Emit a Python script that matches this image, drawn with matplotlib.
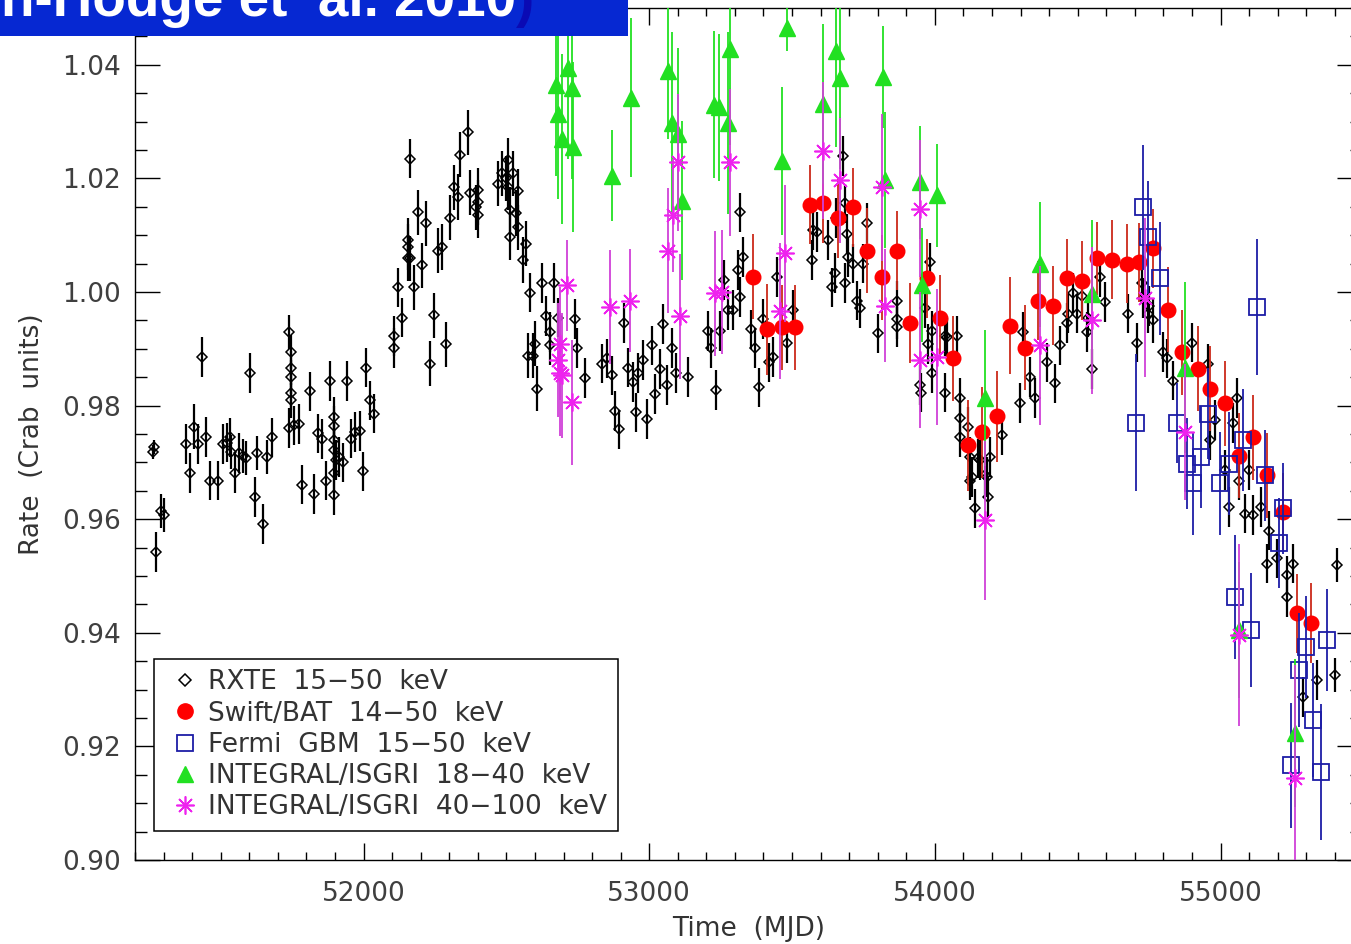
import matplotlib
matplotlib.use("Agg")
import matplotlib.pyplot as plt
from matplotlib.lines import Line2D
from matplotlib.patches import Rectangle
from matplotlib.ticker import MultipleLocator, FormatStrFormatter

# ── Crab light curves (rate in Crab units vs MJD) ───────────────────
rxte_mjd = [
    51262, 51265, 51273, 51290, 51300, 51378, 51392, 51406, 51420, 51434,
    51448, 51462, 51490, 51507, 51521, 51532, 51535, 51549, 51563, 51577,
    51587, 51601, 51619, 51626, 51647, 51661, 51678, 51738, 51745, 51745,
    51745, 51745, 51745, 51738, 51755, 51773, 51783, 51811, 51825, 51839,
    51853, 51867, 51881, 51895, 51895, 51895, 51895, 51902, 51895, 51895,
    51913, 51927, 51941, 51955, 51969, 51986, 51997, 52010, 52024, 52038,
    52105, 52105, 52122, 52136, 52154, 52154, 52164, 52157, 52161, 52175,
    52189, 52206, 52217, 52231, 52245, 52259, 52273, 52287, 52301, 52315,
    52332, 52339, 52364, 52374, 52392, 52402, 52402, 52399, 52469, 52486,
    52497, 52504, 52507, 52511, 52514, 52524, 52532, 52542, 52542, 52559,
    52570, 52584, 52577, 52594, 52601, 52608, 52626, 52640, 52654, 52654,
    52668, 52682, 52741, 52748, 52776, 52836, 52853, 52871, 52881, 52895,
    52913, 52927, 52944, 52955, 52962, 52979, 52993, 53010, 53021, 53038,
    53049, 53063, 53080, 53094, 53136, 53206, 53217, 53234, 53248, 53262,
    53276, 53294, 53318, 53311, 53329, 53318, 53357, 53371, 53385, 53399,
    53420, 53434, 53448, 53483, 53504, 53570, 53573, 53587, 53626, 53640,
    53650, 53678, 53685, 53692, 53696, 53713, 53727, 53738, 53748, 53762,
    53801, 53867, 53867, 53867, 53948, 53951, 53976, 53983, 53965, 53990,
    53990, 54035, 54035, 54042, 54077, 54087, 54087, 54115, 54087, 54122,
    54122, 54129, 54140, 54150, 54157, 54175, 54182, 54185, 54192, 54234,
    54297, 54308, 54332, 54350, 54392, 54420, 54437, 54462, 54465, 54483,
    54497, 54514, 54532, 54535, 54549, 54577, 54594, 54675, 54706, 54724,
    54745, 54797, 54811, 54832, 54899, 54955, 55042, 55059, 55031, 55084,
    55112, 55143, 55161, 55171, 55199, 55231, 55234, 55252, 55287, 55336,
    55399, 55409, 54962, 54979, 55014, 55066, 55101, 53654, 53685, 54727,
    54748, 54762,
]
rxte_rate = [
    0.9718, 0.9727, 0.9542, 0.9614, 0.9607, 0.9733, 0.9682, 0.9763, 0.9732, 0.9885,
    0.9745, 0.9668, 0.9668, 0.9733, 0.9735, 0.9744, 0.9718, 0.9682, 0.9716, 0.9712,
    0.9707, 0.9858, 0.9639, 0.9716, 0.9591, 0.9709, 0.9744, 0.9929, 0.9894, 0.9867,
    0.9850, 0.9823, 0.9809, 0.9760, 0.9765, 0.9767, 0.9661, 0.9825, 0.9644, 0.9751,
    0.9741, 0.9668, 0.9843, 0.9780, 0.9764, 0.9739, 0.9721, 0.9704, 0.9681, 0.9642,
    0.9709, 0.9700, 0.9843, 0.9742, 0.9753, 0.9755, 0.9684, 0.9867, 0.9809, 0.9786,
    0.9922, 0.9901, 1.0008, 0.9955, 1.0091, 1.0059, 1.0059, 1.0079, 1.0235, 1.0008,
    1.0140, 1.0047, 1.0121, 0.9874, 0.9959, 1.0073, 1.0079, 0.9908, 1.0131, 1.0184,
    1.0167, 1.0242, 1.0281, 1.0175, 1.0149, 1.0179, 1.0158, 1.0135, 1.0191, 1.0209,
    1.0200, 1.0232, 1.0184, 1.0144, 1.0096, 1.0209, 1.0139, 1.0177, 1.0114, 1.0056,
    1.0085, 0.9999, 0.9888, 0.9888, 0.9909, 0.9830, 1.0016, 0.9958, 0.9929, 0.9906,
    1.0016, 0.9955, 0.9953, 0.9902, 0.9849, 0.9874, 0.9883, 0.9853, 0.9791, 0.9758,
    0.9945, 0.9867, 0.9841, 0.9788, 0.9857, 0.9880, 0.9776, 0.9906, 0.9821, 0.9865,
    0.9943, 0.9836, 0.9902, 0.9857, 0.9851, 0.9932, 0.9902, 0.9828, 0.9932, 1.0021,
    0.9968, 0.9968, 0.9991, 1.0039, 1.0061, 1.0140, 0.9934, 0.9902, 0.9832, 0.9953,
    0.9876, 0.9885, 1.0026, 0.9910, 0.9968, 1.0056, 1.0109, 1.0105, 1.0091, 1.0008,
    1.0033, 1.0240, 1.0016, 1.0102, 1.0061, 1.0050, 0.9985, 0.9971, 1.0050, 1.0122,
    0.9927, 0.9985, 0.9953, 0.9938, 0.9836, 0.9823, 0.9909, 1.0052, 0.9971, 0.9932,
    0.9857, 0.9923, 0.9823, 0.9920, 0.9923, 0.9814, 0.9779, 0.9762, 0.9744, 0.9709,
    0.9668, 0.9674, 0.9619, 0.9707, 0.9704, 0.9677, 0.9674, 0.9639, 0.9709, 0.9748,
    0.9804, 0.9929, 0.9850, 0.9814, 0.9876, 0.9839, 0.9906, 0.9945, 0.9962, 0.9998,
    0.9962, 0.9993, 0.9929, 0.9955, 0.9865, 1.0026, 0.9982, 0.9962, 0.9911, 1.0016,
    0.9962, 0.9894, 0.9883, 0.9844, 0.9911, 0.9874, 0.9769, 0.9813, 0.9621, 0.9610,
    0.9607, 0.9621, 0.9522, 0.9580, 0.9531, 0.9463, 0.9501, 0.9522, 0.9287, 0.9317,
    0.9325, 0.9519, 0.9739, 0.9774, 0.9686, 0.9668, 0.9686, 1.0130, 1.0156, 0.9990,
    0.9975, 0.9950,
]
rxte_err = [
    0.0012, 0.0012, 0.0035, 0.0030, 0.0030, 0.0035, 0.0035, 0.0040, 0.0035, 0.0035,
    0.0035, 0.0035, 0.0035, 0.0035, 0.0035, 0.0035, 0.0030, 0.0035, 0.0035, 0.0030,
    0.0030, 0.0035, 0.0035, 0.0030, 0.0035, 0.0030, 0.0035, 0.0030, 0.0030, 0.0030,
    0.0030, 0.0030, 0.0030, 0.0035, 0.0035, 0.0035, 0.0035, 0.0035, 0.0035, 0.0035,
    0.0035, 0.0035, 0.0035, 0.0035, 0.0035, 0.0035, 0.0035, 0.0035, 0.0035, 0.0035,
    0.0035, 0.0035, 0.0035, 0.0035, 0.0035, 0.0035, 0.0035, 0.0035, 0.0035, 0.0035,
    0.0035, 0.0035, 0.0035, 0.0035, 0.0040, 0.0040, 0.0040, 0.0040, 0.0035, 0.0040,
    0.0040, 0.0040, 0.0040, 0.0040, 0.0040, 0.0040, 0.0040, 0.0040, 0.0040, 0.0040,
    0.0040, 0.0040, 0.0040, 0.0040, 0.0040, 0.0040, 0.0040, 0.0040, 0.0040, 0.0040,
    0.0040, 0.0040, 0.0040, 0.0040, 0.0040, 0.0040, 0.0040, 0.0040, 0.0040, 0.0040,
    0.0040, 0.0035, 0.0040, 0.0040, 0.0040, 0.0040, 0.0035, 0.0035, 0.0035, 0.0035,
    0.0035, 0.0035, 0.0035, 0.0035, 0.0035, 0.0035, 0.0035, 0.0035, 0.0035, 0.0035,
    0.0035, 0.0035, 0.0035, 0.0035, 0.0035, 0.0035, 0.0035, 0.0035, 0.0035, 0.0035,
    0.0035, 0.0035, 0.0035, 0.0035, 0.0035, 0.0035, 0.0035, 0.0035, 0.0035, 0.0035,
    0.0035, 0.0035, 0.0035, 0.0035, 0.0035, 0.0035, 0.0035, 0.0035, 0.0035, 0.0035,
    0.0035, 0.0035, 0.0035, 0.0035, 0.0035, 0.0035, 0.0035, 0.0035, 0.0035, 0.0035,
    0.0035, 0.0035, 0.0035, 0.0035, 0.0035, 0.0035, 0.0035, 0.0035, 0.0035, 0.0035,
    0.0035, 0.0035, 0.0035, 0.0035, 0.0035, 0.0035, 0.0035, 0.0035, 0.0035, 0.0035,
    0.0035, 0.0035, 0.0035, 0.0035, 0.0035, 0.0035, 0.0035, 0.0035, 0.0035, 0.0035,
    0.0035, 0.0035, 0.0035, 0.0035, 0.0035, 0.0035, 0.0035, 0.0035, 0.0035, 0.0035,
    0.0035, 0.0035, 0.0035, 0.0035, 0.0035, 0.0035, 0.0035, 0.0035, 0.0035, 0.0035,
    0.0035, 0.0035, 0.0035, 0.0035, 0.0035, 0.0035, 0.0035, 0.0035, 0.0035, 0.0035,
    0.0035, 0.0035, 0.0035, 0.0035, 0.0035, 0.0035, 0.0035, 0.0035, 0.0035, 0.0035,
    0.0035, 0.0035, 0.0035, 0.0035, 0.0035, 0.0035, 0.0035, 0.0035, 0.0035, 0.0035,
    0.0030, 0.0030, 0.0035, 0.0035, 0.0035, 0.0035, 0.0035, 0.0035, 0.0035, 0.0035,
    0.0035, 0.0040,
]

bat_mjd = [
    53364, 53413, 53465, 53511, 53563, 53608, 53661, 53713, 53762, 53815,
    53867, 53913, 53972, 54017, 54063, 54115, 54164, 54217, 54262, 54315,
    54360, 54413, 54462, 54514, 54567, 54619, 54672, 54713, 54762, 54815,
    54864, 54920, 54962, 55014, 55066, 55112, 55161, 55217, 55266, 55318,
]
bat_rate = [
    1.0027, 0.9934, 0.9938, 0.9938, 1.0154, 1.0156, 1.0130, 1.0149, 1.0073, 1.0026,
    1.0073, 0.9945, 1.0024, 0.9955, 0.9883, 0.9730, 0.9753, 0.9781, 0.9941, 0.9902,
    0.9985, 0.9976, 1.0024, 1.0020, 1.0059, 1.0057, 1.0050, 1.0052, 1.0077, 0.9969,
    0.9894, 0.9865, 0.9830, 0.9804, 0.9712, 0.9744, 0.9677, 0.9612, 0.9434, 0.9417,
]
bat_err = [
    0.0075, 0.0080, 0.0075, 0.0075, 0.0070, 0.0070, 0.0070, 0.0070, 0.0075, 0.0075,
    0.0070, 0.0070, 0.0070, 0.0075, 0.0075, 0.0080, 0.0080, 0.0080, 0.0085, 0.0075,
    0.0070, 0.0070, 0.0070, 0.0070, 0.0065, 0.0070, 0.0070, 0.0070, 0.0070, 0.0075,
    0.0075, 0.0075, 0.0075, 0.0075, 0.0075, 0.0075, 0.0075, 0.0070, 0.0070, 0.0070,
]

gbm_mjd = [
    54703, 54727, 54745, 54787, 54846, 54881, 54902, 54933, 54955, 54997,
    55031, 55049, 55077, 55108, 55126, 55154, 55206, 55217, 55248, 55276,
    55300, 55322, 55353, 55374,
]
gbm_rate = [
    0.9770, 1.0149, 1.0096, 1.0024, 0.9769, 0.9698, 0.9663, 0.9709, 0.9786, 0.9663,
    0.9698, 0.9463, 0.9739, 0.9405, 0.9973, 0.9677, 0.9558, 0.9619, 0.9167, 0.9334,
    0.9375, 0.9246, 0.9155, 0.9387,
]
gbm_err = [
    0.012, 0.011, 0.010, 0.010, 0.007, 0.008, 0.009, 0.009, 0.008, 0.009,
    0.009, 0.011, 0.009, 0.010, 0.012, 0.008, 0.008, 0.008, 0.011, 0.010,
    0.009, 0.010, 0.012, 0.009,
]

isgri_lo_mjd = [
    52675, 52682, 52696, 52717, 52731, 52734, 52871, 52937, 53066, 53080,
    53101, 53115, 53227, 53245, 53276, 53283, 53465, 53482, 53608, 53654,
    53668, 53818, 53825, 53948, 53955, 54007, 54175, 54367, 54549, 54874,
    55066, 55259,
]
isgri_lo_rate = [
    1.0365, 1.0313, 1.0269, 1.0394, 1.0359, 1.0255, 1.0205, 1.0342, 1.0389, 1.0298,
    1.0279, 1.0161, 1.0330, 1.0325, 1.0298, 1.0428, 1.0231, 1.0465, 1.0331, 1.0425,
    1.0376, 1.0378, 1.0197, 1.0193, 1.0012, 1.0170, 0.9813, 1.0049, 0.9997, 0.9867,
    0.9405, 0.9223,
]
isgri_lo_err = [
    0.016, 0.015, 0.015, 0.016, 0.016, 0.015, 0.008, 0.014, 0.012, 0.016,
    0.015, 0.014, 0.013, 0.013, 0.016, 0.017, 0.013, 0.004, 0.014, 0.017,
    0.016, 0.009, 0.012, 0.010, 0.010, 0.009, 0.012, 0.011, 0.013, 0.015,
    0.012, 0.013,
]

isgri_hi_mjd = [
    52682, 52689, 52689, 52696, 52713, 52731, 52864, 52934, 53066, 53084,
    53101, 53108, 53231, 53255, 53283, 53458, 53476, 53608, 53668, 53815,
    53825, 53948, 53948, 54007, 54175, 54367, 54549, 54734, 54874, 55066,
    55259,
]
isgri_hi_rate = [
    0.9880, 0.9909, 0.9857, 0.9853, 1.0012, 0.9806, 0.9974, 0.9985, 1.0073, 1.0135,
    1.0228, 0.9957, 0.9998, 1.0000, 1.0228, 0.9967, 1.0068, 1.0249, 1.0197, 1.0184,
    0.9976, 1.0147, 0.9880, 0.9885, 0.9598, 0.9906, 0.9950, 0.9990, 0.9753, 0.9396,
    0.9144,
]
isgri_hi_err = [
    0.010, 0.010, 0.011, 0.011, 0.008, 0.011, 0.010, 0.009, 0.011, 0.010,
    0.012, 0.011, 0.011, 0.011, 0.013, 0.012, 0.012, 0.012, 0.011, 0.013,
    0.010, 0.012, 0.012, 0.012, 0.014, 0.014, 0.013, 0.014, 0.012, 0.016,
    0.020,
]

legend_labels = [
    "RXTE  15\u221250  keV",
    "Swift/BAT  14\u221250  keV",
    "Fermi  GBM  15\u221250  keV",
    "INTEGRAL/ISGRI  18\u221240  keV",
    "INTEGRAL/ISGRI  40\u2212100  keV",
]

# ── style ───────────────────────────────────────────────────────────
plt.rcParams.update({
    "font.family": "DejaVu Sans",
    "axes.linewidth": 1.0,
    "text.color": "#333333",
    "xtick.color": "black",
    "ytick.color": "black",
    "xtick.labelcolor": "#3f3f3f",
    "ytick.labelcolor": "#3f3f3f",
})

C_RXTE = "black"
C_BAT = "#ff0000"
C_BAT_BAR = "#cc2a1a"
C_GBM = "#1c1ca6"
C_LO = "#22e022"
C_HI = "#ee22ee"
C_HI_BAR = "#d040d8"
ASTERISK = (8, 2, 0)

W, H = 1351, 944
fig = plt.figure(figsize=(W / 100, H / 100), dpi=100)
ax = fig.add_axes([135 / W, 84 / H, 1227 / W, 852 / H])

ax.errorbar(rxte_mjd, rxte_rate, yerr=rxte_err, fmt="D", ms=4.8,
            mfc="none", mec=C_RXTE, mew=1.1, ecolor=C_RXTE,
            elinewidth=1.6, capsize=0, zorder=2)
ax.errorbar(bat_mjd, bat_rate, yerr=bat_err, fmt="o", ms=10.5,
            mfc=C_BAT, mec=C_BAT, ecolor=C_BAT_BAR,
            elinewidth=1.3, capsize=0, zorder=3)
ax.errorbar(gbm_mjd, gbm_rate, yerr=gbm_err, fmt="s", ms=11,
            mfc="none", mec=C_GBM, mew=1.3, ecolor=C_GBM,
            elinewidth=1.3, capsize=0, zorder=4)
ax.errorbar(isgri_lo_mjd, isgri_lo_rate, yerr=isgri_lo_err, fmt="^", ms=11,
            mfc=C_LO, mec=C_LO, ecolor=C_LO,
            elinewidth=1.3, capsize=0, zorder=5)
ax.errorbar(isgri_hi_mjd, isgri_hi_rate, yerr=isgri_hi_err, fmt="none",
            ecolor=C_HI_BAR, elinewidth=1.3, capsize=0, zorder=6)
ax.plot(isgri_hi_mjd, isgri_hi_rate, ls="none", marker=ASTERISK, ms=13,
        mec=C_HI, mew=1.2, zorder=6)

ax.set_xlim(51200, 55495)
ax.set_ylim(0.90, 1.05)

ax.xaxis.set_major_locator(MultipleLocator(1000))
ax.xaxis.set_minor_locator(MultipleLocator(100))
ax.yaxis.set_major_locator(MultipleLocator(0.02))
ax.yaxis.set_minor_locator(MultipleLocator(0.005))
ax.yaxis.set_major_formatter(FormatStrFormatter("%.2f"))

ax.tick_params(axis="both", which="both", direction="in",
               top=True, right=True, width=1.0)
ax.tick_params(axis="x", which="major", length=12.5, pad=15, labelsize=19)
ax.tick_params(axis="x", which="minor", length=6)
ax.tick_params(axis="y", which="major", length=18, pad=10, labelsize=19)
ax.tick_params(axis="y", which="minor", length=8.6)

ax.set_xlabel("Time  (MJD)", fontsize=19, color="#333333", va="top")
ax.xaxis.set_label_coords(0.5, -0.066)
ax.set_ylabel("Rate  (Crab  units)", fontsize=19, color="#333333")
ax.yaxis.set_label_coords(-0.073, 0.5)

handles = [
    Line2D([], [], ls="none", marker="D", ms=6.5, mfc="none", mec=C_RXTE, mew=1.1),
    Line2D([], [], ls="none", marker="o", ms=11, mfc=C_BAT, mec=C_BAT),
    Line2D([], [], ls="none", marker="s", ms=11, mfc="none", mec=C_GBM, mew=1.3),
    Line2D([], [], ls="none", marker="^", ms=12, mfc=C_LO, mec=C_LO),
    Line2D([], [], ls="none", marker=ASTERISK, ms=13, mec=C_HI, mew=1.2),
]
leg = ax.legend(handles, legend_labels, loc="lower left",
                bbox_to_anchor=(0.0155, 0.034), borderaxespad=0,
                fontsize=19, frameon=True, fancybox=False,
                edgecolor="black", framealpha=1, borderpad=0.4,
                labelspacing=0.2, handlelength=1.55, handletextpad=0.1)
leg.get_frame().set_linewidth(1.1)
for t in leg.get_texts():
    t.set_color("#333333")

# banner strip along the top-left edge
fig.add_artist(Rectangle((0, 1 - 36 / H), 628 / W, 36 / H,
                         transform=fig.transFigure, facecolor="#0628d2",
                         edgecolor="none", zorder=10))
fig.text(516 / W, 1 - 16 / H, "(Wilson-Hodge et  al. 2010",
         ha="right", va="baseline", color="white", fontsize=39.5,
         fontweight="bold", family="Liberation Sans", zorder=11)
fig.text(516 / W, 1 - 16 / H, ")", ha="left", va="baseline",
         color="#0a0ab4", fontsize=39.5, fontweight="bold",
         family="Liberation Sans", zorder=11)

fig.savefig("out.png", dpi=100, facecolor="white")
